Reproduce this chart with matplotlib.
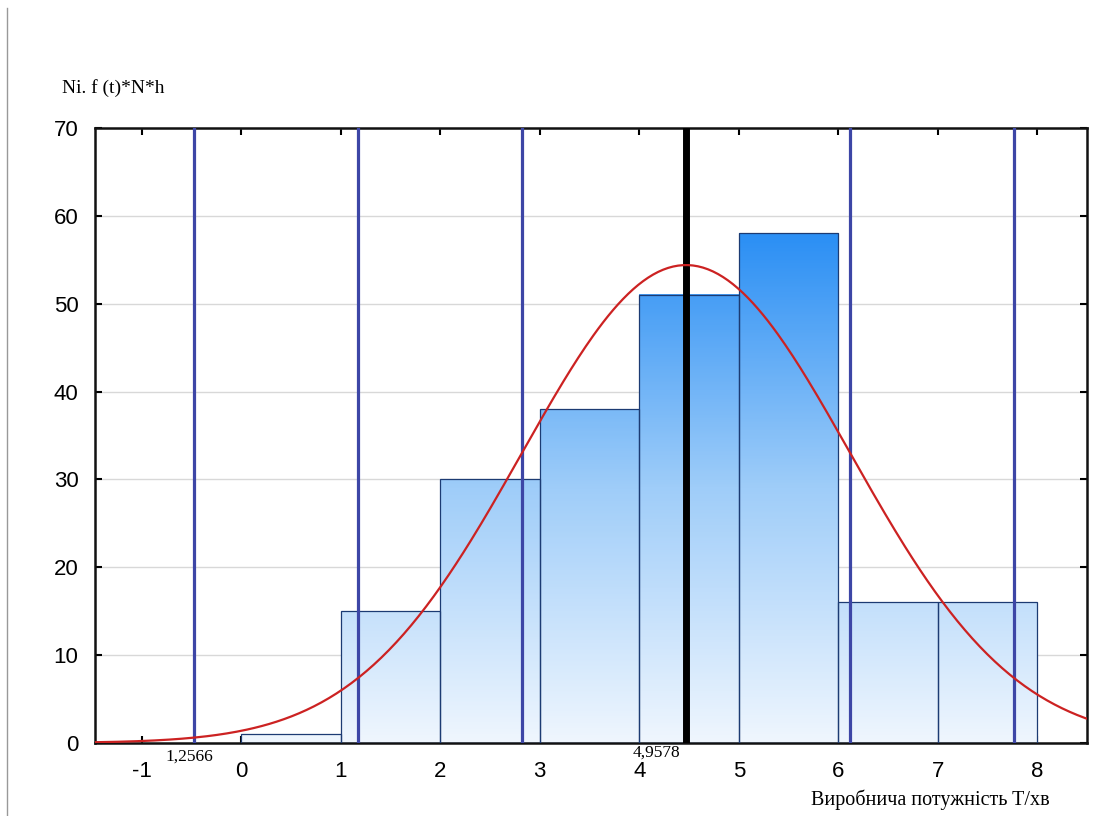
import numpy as np
import matplotlib
matplotlib.use("Agg")
import matplotlib.pyplot as plt
from matplotlib.colors import LinearSegmentedColormap
from matplotlib.lines import Line2D

plt.rcParams["axes.unicode_minus"] = False

## histogram data
bin_left = [0, 1, 2, 3, 4, 5, 6, 7]
counts = [1, 15, 30, 38, 51, 58, 16, 16]
bin_width = 1.0

## fitted normal
mean_t = 4.47
sigma_t = 1.65
sigma_steps = [-3, -2, -1, 1, 2]

## annotations
mean_label = "4,9578"
low_label = "1,2566"

y_ticks = [0, 10, 20, 30, 40, 50, 60, 70]
x_ticks = [-1, 0, 1, 2, 3, 4, 5, 6, 7, 8]

fig = plt.figure(figsize=(10.95, 8.16), dpi=100)
ax = fig.add_axes([0.0868, 0.0895, 0.9059, 0.7536])

grad_cmap = LinearSegmentedColormap.from_list("bars", ["#eff6fe", "#9fcdf9", "#2b8ff4"])
for x0, h in zip(bin_left, counts):
    grad = np.linspace(0, h, 200).reshape(-1, 1)
    ax.imshow(grad, extent=[x0, x0 + bin_width, 0, h], origin="lower",
              cmap=grad_cmap, vmin=0, vmax=max(counts), aspect="auto", zorder=2)
ax.bar(bin_left, counts, width=bin_width, align="edge", fill=False,
       edgecolor="#1c3b73", linewidth=0.9, zorder=3)

# sigma lines and mean
for k in sigma_steps:
    ax.axvline(mean_t + k * sigma_t, color="#3d46a6", linewidth=2.3, zorder=4)
ax.axvline(mean_t, color="black", linewidth=5, zorder=5)

# normal curve f(t)*N*h
t = np.linspace(-1.5, 8.5, 400)
n_h = sum(counts) * bin_width
ft = n_h / (sigma_t * np.sqrt(2 * np.pi)) * np.exp(-0.5 * ((t - mean_t) / sigma_t) ** 2)
ax.plot(t, ft, color="#cc2222", linewidth=1.6, zorder=6)

ax.set_xlim(-1.47, 8.5)
ax.set_ylim(0, 70)
ax.set_xticks(x_ticks)
ax.set_yticks(y_ticks)
ax.yaxis.grid(True, color="#d8d8d8", linewidth=1.0, zorder=0)
ax.set_axisbelow(True)
ax.tick_params(axis="both", direction="in", length=5, width=1.5,
               top=True, right=True, labelsize=16)
ax.tick_params(axis="x", pad=13)
ax.tick_params(axis="y", pad=12)
for lab in ax.get_xticklabels() + ax.get_yticklabels():
    lab.set_fontfamily("Liberation Sans")
for sp in ax.spines.values():
    sp.set_linewidth(1.8)
    sp.set_color("#111111")

serif = "Liberation Serif"
fig.text(62 / 1095, 1 - 88 / 816, "Ni. f (t)*N*h", fontsize=14, family=serif,
         ha="left", va="center")
fig.text(1050 / 1095, 1 - 800 / 816, "Виробнича потужність T/хв", fontsize=14.5,
         family=serif, ha="right", va="center")
fig.text(189 / 1095, 1 - 757 / 816, low_label, fontsize=12.5, family=serif,
         ha="center", va="center")
fig.text(656 / 1095, 1 - 753 / 816, mean_label, fontsize=12.5, family=serif,
         ha="center", va="center")

# left border of the sheet
fig.add_artist(Line2D([7 / 1095, 7 / 1095], [0, 1 - 8 / 816],
                      transform=fig.transFigure, color="#999999", linewidth=1))

plt.savefig("out.png", dpi=100)
plt.close()
